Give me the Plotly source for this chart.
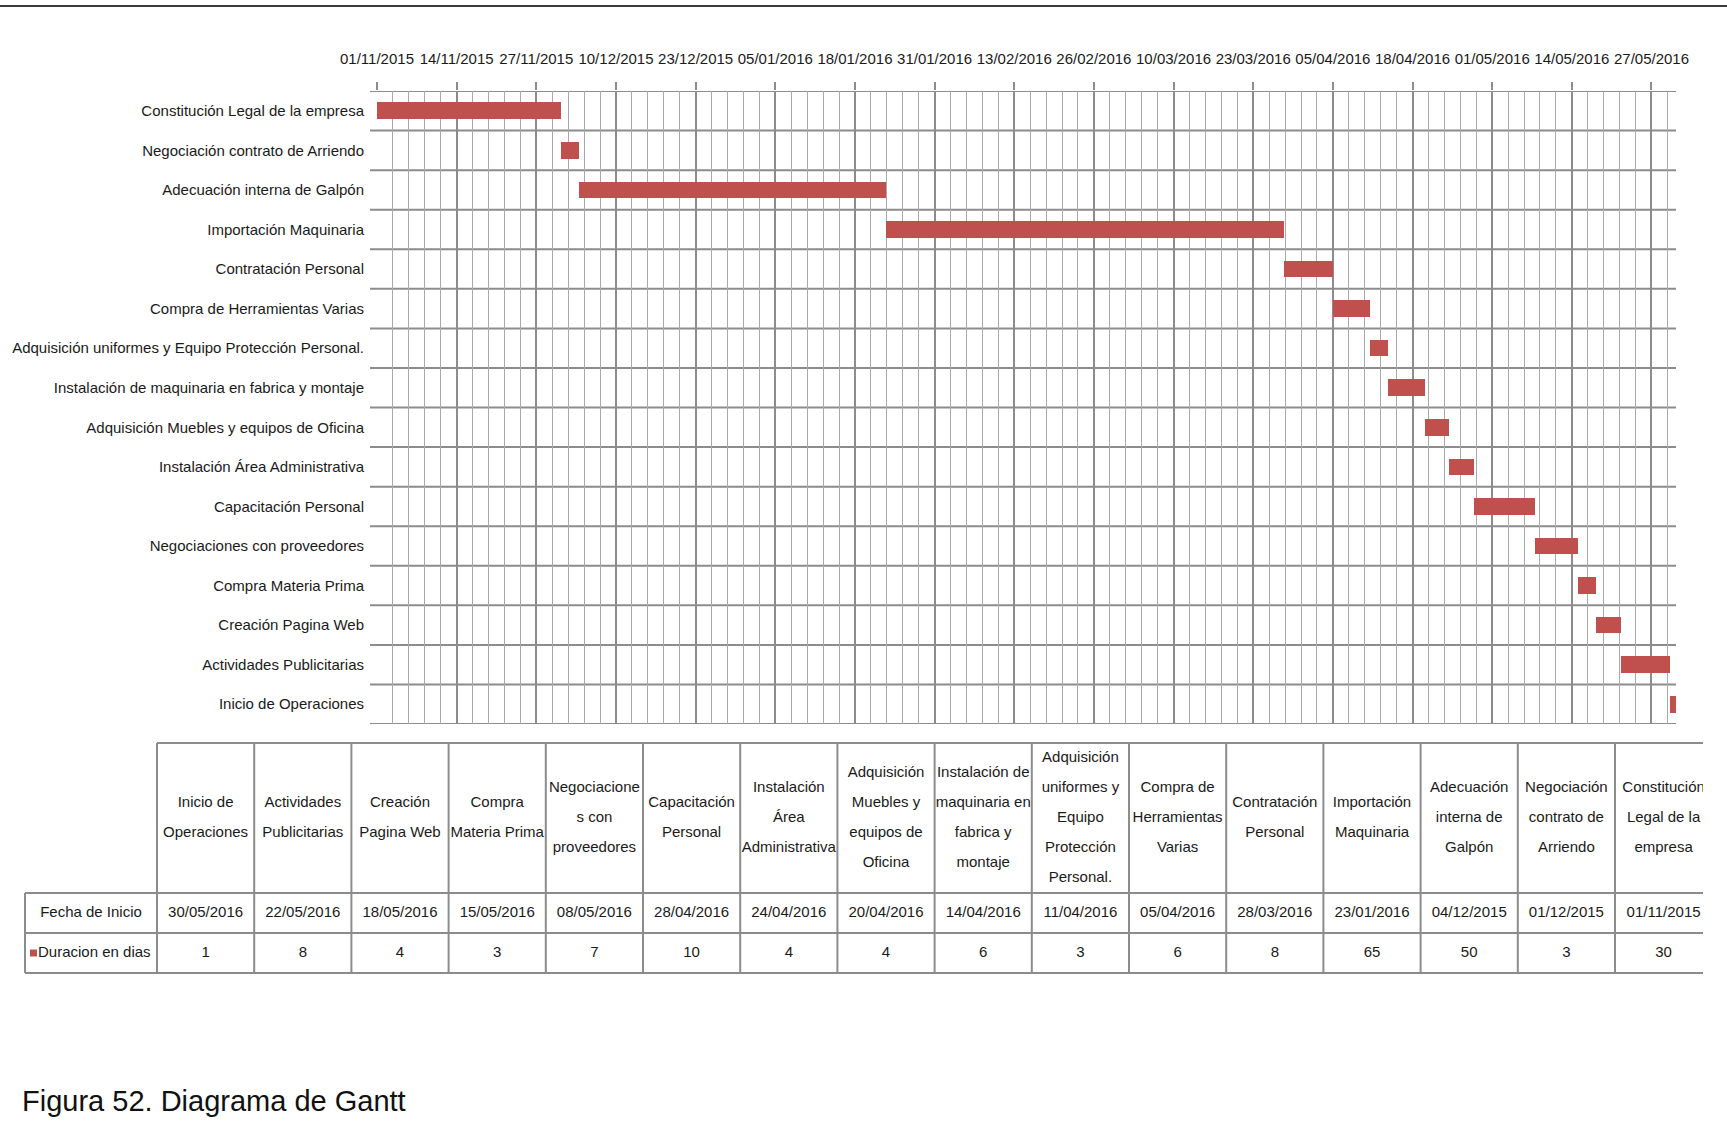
import plotly.graph_objects as go

# ---- data -------------------------------------------------------------
tasks = [
    "Constitución Legal de la empresa",
    "Negociación contrato de Arriendo",
    "Adecuación interna de Galpón",
    "Importación Maquinaria",
    "Contratación Personal",
    "Compra de Herramientas Varias",
    "Adquisición uniformes y Equipo Protección Personal.",
    "Instalación de maquinaria en fabrica y montaje",
    "Adquisición Muebles y equipos de Oficina",
    "Instalación Área Administrativa",
    "Capacitación Personal",
    "Negociaciones con proveedores",
    "Compra Materia Prima",
    "Creación Pagina Web",
    "Actividades Publicitarias",
    "Inicio de Operaciones",
]
start_dates = [
    "2015-11-01", "2015-12-01", "2015-12-04", "2016-01-23",
    "2016-03-28", "2016-04-05", "2016-04-11", "2016-04-14",
    "2016-04-20", "2016-04-24", "2016-04-28", "2016-05-08",
    "2016-05-15", "2016-05-18", "2016-05-22", "2016-05-30",
]
durations = [30, 3, 50, 65, 8, 6, 3, 6, 4, 4, 10, 7, 3, 4, 8, 1]

# wrapped task names for the table header (table lists tasks in reverse order)
table_headers = [
    "Inicio de<br>Operaciones",
    "Actividades<br>Publicitarias",
    "Creación<br>Pagina Web",
    "Compra<br>Materia Prima",
    "Negociacione<br>s con<br>proveedores",
    "Capacitación<br>Personal",
    "Instalación<br>Área<br>Administrativa",
    "Adquisición<br>Muebles y<br>equipos de<br>Oficina",
    "Instalación de<br>maquinaria en<br>fabrica y<br>montaje",
    "Adquisición<br>uniformes y<br>Equipo<br>Protección<br>Personal.",
    "Compra de<br>Herramientas<br>Varias",
    "Contratación<br>Personal",
    "Importación<br>Maquinaria",
    "Adecuación<br>interna de<br>Galpón",
    "Negociación<br>contrato de<br>Arriendo",
    "Constitución<br>Legal de la<br>empresa",
]
row_labels = ["Fecha de Inicio", "Duracion en dias"]
axis_range = ["2015-11-01", "2016-05-31"]

# ---- styling ----------------------------------------------------------
W, H = 1727, 1132
BAR = "#C0504D"
GRID_MAJOR = "#8c8c8c"
GRID_MINOR = "#a9a9a9"
TXT = "Liberation Sans, Arial, sans-serif"
INK = "#1a1a1a"
DAY = 86400000


def px_x(p):
    return p / W


def px_y(p):
    return 1 - p / H


# Gantt plot area (pixels)
plot_l, plot_r, plot_t, plot_b = 377, 1676, 91, 724
n = len(tasks)
ypos = list(range(n))

# table geometry, in table units (1 unit = 1 px); origin at the table's top-left
tbl_left_px, tbl_top_px, tbl_visible_right_px = 25, 743, 1703
col_widths = [132] + [97.2] * n
row_heights = [150, 40, 40]
line_gap = 30
x_edges = [0.0]
for w in col_widths:
    x_edges.append(x_edges[-1] + w)
y_edges = [0.0]
for h in row_heights:
    y_edges.append(y_edges[-1] + h)
x_mid = [(x_edges[i] + x_edges[i + 1]) / 2 for i in range(len(col_widths))]
y_mid = [(y_edges[i] + y_edges[i + 1]) / 2 for i in range(len(row_heights))]

fig = go.Figure()

# Gantt bars: start date + duration in days
fig.add_trace(go.Bar(
    y=ypos,
    x=[d * DAY for d in durations],
    base=start_dates,
    orientation="h",
    width=0.42,
    marker=dict(color=BAR, line=dict(width=0)),
    showlegend=False,
    hoverinfo="skip",
))

# table text, one text point per line
tx, ty, tt = [], [], []
rev = list(range(n))[::-1]
for c, i in enumerate(rev, start=1):
    lines = table_headers[c - 1].split("<br>")
    for k, line in enumerate(lines):
        tx.append(x_mid[c])
        ty.append(y_mid[0] + (k - (len(lines) - 1) / 2) * line_gap)
        tt.append(line)
    d = start_dates[i]
    tx += [x_mid[c], x_mid[c]]
    ty += [y_mid[1], y_mid[2]]
    tt += [f"{d[8:10]}/{d[5:7]}/{d[0:4]}", str(durations[i])]
tx.append(x_mid[0])
ty.append(y_mid[1])
tt.append(row_labels[0])

fig.add_trace(go.Scatter(
    x=tx, y=ty, text=tt, mode="text",
    textposition="middle center",
    textfont=dict(family=TXT, size=15, color=INK),
    xaxis="x2", yaxis="y2",
    showlegend=False, hoverinfo="skip",
))
# series key + label in the duration row
fig.add_trace(go.Scatter(
    x=[13], y=[y_mid[2]], text=[row_labels[1]], mode="text",
    textposition="middle right",
    textfont=dict(family=TXT, size=15, color=INK),
    xaxis="x2", yaxis="y2",
    showlegend=False, hoverinfo="skip",
))

shapes = []
# row separators of the Gantt grid
for k in range(n + 1):
    shapes.append(dict(
        type="line", xref="paper", yref="y",
        x0=px_x(plot_l - 7), x1=px_x(plot_r), y0=k - 0.5, y1=k - 0.5,
        line=dict(color=GRID_MAJOR, width=2), layer="below",
    ))
# table borders
tline = dict(color=GRID_MAJOR, width=2)
for r, yv in enumerate(y_edges):
    shapes.append(dict(type="line", xref="x2", yref="y2",
                       x0=x_edges[1] if r == 0 else x_edges[0], x1=x_edges[-1],
                       y0=yv, y1=yv, line=tline))
for c, xv in enumerate(x_edges):
    shapes.append(dict(type="line", xref="x2", yref="y2",
                       x0=xv, x1=xv,
                       y0=y_edges[1] if c == 0 else y_edges[0], y1=y_edges[-1],
                       line=tline))
shapes.append(dict(type="rect", xref="x2", yref="y2",
                   x0=5, x1=12, y0=y_mid[2] - 3.5, y1=y_mid[2] + 3.5,
                   fillcolor=BAR, line=dict(width=0)))
# page rule at the top
shapes.append(dict(
    type="line", xref="paper", yref="paper",
    x0=0, x1=1, y0=px_y(6), y1=px_y(6),
    line=dict(color="#3a3a3a", width=2),
))

tbl_w_px = tbl_visible_right_px - tbl_left_px
fig.update_layout(
    width=W, height=H,
    margin=dict(l=0, r=0, t=0, b=0),
    paper_bgcolor="white",
    plot_bgcolor="white",
    bargap=0,
    shapes=shapes,
    xaxis=dict(
        type="date",
        domain=[px_x(plot_l), px_x(plot_r)],
        range=axis_range,
        side="top",
        tick0="2015-11-01",
        dtick=13 * DAY,
        tickformat="%d/%m/%Y",
        tickangle=0,
        ticks="outside",
        ticklen=8,
        tickwidth=1.5,
        tickcolor=GRID_MAJOR,
        ticklabelstandoff=12,
        tickfont=dict(family=TXT, size=15, color=INK),
        showgrid=True,
        gridcolor=GRID_MAJOR,
        gridwidth=1.5,
        minor=dict(dtick=2.6 * DAY, tick0="2015-11-01",
                   showgrid=True, gridcolor=GRID_MINOR, gridwidth=1),
        showline=False,
        zeroline=False,
        automargin=False,
        fixedrange=True,
    ),
    yaxis=dict(
        domain=[px_y(plot_b), px_y(plot_t)],
        range=[n - 0.5, -0.5],
        tickmode="array",
        tickvals=ypos,
        ticktext=tasks,
        ticks="",
        ticklabelstandoff=12,
        tickfont=dict(family=TXT, size=15, color=INK),
        showgrid=False,
        zeroline=False,
        showline=False,
        automargin=False,
        fixedrange=True,
    ),
    xaxis2=dict(
        domain=[px_x(tbl_left_px - 2), px_x(tbl_visible_right_px)],
        range=[-2, tbl_w_px],
        visible=False, fixedrange=True, anchor="y2",
    ),
    yaxis2=dict(
        domain=[px_y(tbl_top_px + y_edges[-1] + 2), px_y(tbl_top_px - 2)],
        range=[y_edges[-1] + 2, -2],
        visible=False, fixedrange=True, anchor="x2",
    ),
    annotations=[dict(
        text="Figura 52. Diagrama de Gantt",
        xref="paper", yref="paper",
        x=px_x(20), y=px_y(1101),
        xanchor="left", yanchor="middle",
        showarrow=False,
        font=dict(family=TXT, size=29, color="#111111"),
    )],
)

fig.write_html("out.html")
